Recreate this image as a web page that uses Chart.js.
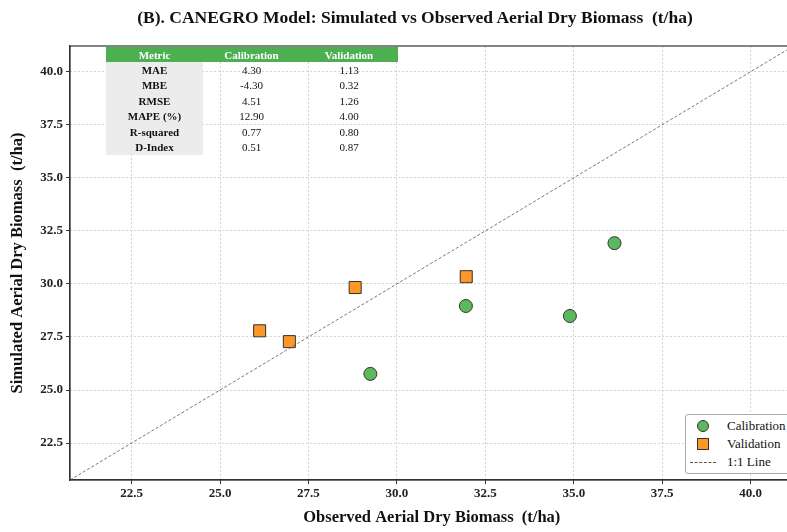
<!DOCTYPE html>
<html>
<head>
<meta charset="utf-8">
<script src="https://cdn.jsdelivr.net/npm/chart.js@4.4.1/dist/chart.umd.min.js"></script>
<style>
    html, body { margin: 0; padding: 0; background: #fff; overflow: hidden; }
    body { width: 787px; height: 532px; position: relative; font-family: "Liberation Serif", "DejaVu Serif", serif; }
    #wrap { position: absolute; left: 0; top: 0; width: 803px; height: 532px; }
    #title { position: absolute; top: 7px; left: 0; width: 830px; text-align: center; font-weight: bold; font-size: 17.5px; white-space: pre; color: #111; }
    #metrics { position: absolute; left: 106px; top: 47px; border-collapse: collapse; font-size: 11px; color: #111; }
    #metrics th { background: #4caf50; color: #fff; font-weight: bold; height: 15px; padding: 0; }
    #metrics td { height: 15.5px; padding: 0; text-align: center; }
    #metrics td.name { background: rgba(234, 234, 234, 0.9); font-weight: bold; }
    #legend { position: absolute; left: 685px; top: 414px; width: 110px; height: 60px; border: 1px solid #aaa; border-radius: 3px; background: #fff; font-size: 13px; color: #111; box-sizing: border-box; }
    .item { position: absolute; left: 0; height: 18px; line-height: 18px; }
    .item span.lbl { position: absolute; left: 41px; white-space: nowrap; }
    .mk-circle { position: absolute; left: 11px; top: 3px; width: 12px; height: 12px; border-radius: 50%; background: #5cb85c; border: 1px solid #333; box-sizing: border-box; }
    .mk-square { position: absolute; left: 11px; top: 3px; width: 12px; height: 12px; background: #fd9827; border: 1px solid #333; box-sizing: border-box; }
    .mk-line { position: absolute; left: 4px; top: 9px; width: 26px; border-top: 1px dashed #555; }
</style>
</head>
<body>
<div id="wrap"><canvas id="chart" width="803" height="532"></canvas></div>
<div id="title">(B). CANEGRO Model: Simulated vs Observed Aerial Dry Biomass  (t/ha)</div>
<table id="metrics"></table>
<div id="legend">
    <div class="item" style="top:2px"><span class="mk-circle"></span><span class="lbl">Calibration</span></div>
    <div class="item" style="top:20px"><span class="mk-square"></span><span class="lbl">Validation</span></div>
    <div class="item" style="top:38px"><span class="mk-line"></span><span class="lbl">1:1 Line</span></div>
</div>
<script>
// observed (x) vs simulated (y), t/ha
const calObserved = [29.25, 31.95, 34.89, 36.15];
const calSimulated = [25.76, 28.96, 28.49, 31.92];
const valObserved = [26.12, 26.96, 28.82, 31.96];
const valSimulated = [27.79, 27.28, 29.83, 30.34];

const axisMin = 20.76;
const axisMax = 41.21;

const metricNames = ['MAE', 'MBE', 'RMSE', 'MAPE (%)', 'R-squared', 'D-Index'];
const calMetrics = ['4.30', '-4.30', '4.51', '12.90', '0.77', '0.51'];
const valMetrics = ['1.13', '0.32', '1.26', '4.00', '0.80', '0.87'];

// metrics table
const table = document.getElementById('metrics');
let html = '<tr><th style="width:97px">Metric</th><th style="width:97px">Calibration</th><th style="width:98px">Validation</th></tr>';
metricNames.forEach((m, i) => {
    html += `<tr><td class="name">${m}</td><td>${calMetrics[i]}</td><td>${valMetrics[i]}</td></tr>`;
});
table.innerHTML = html;

const toPoints = (xs, ys) => xs.map((x, i) => ({ x: x, y: ys[i] }));

// draws the full box (top and right spines too)
const frame = {
    id: 'frame',
    afterDraw(chart) {
        const { ctx, chartArea: a } = chart;
        ctx.save();
        ctx.strokeStyle = '#333';
        ctx.lineWidth = 1.2;
        ctx.strokeRect(a.left, a.top, a.right - a.left, a.bottom - a.top);
        ctx.restore();
    }
};

const tickFont = { family: 'Liberation Serif', size: 13, weight: 'bold' };
const titleFont = { family: 'Liberation Serif', size: 16.5, weight: 'bold' };

function axis(title, isX) {
    return {
        type: 'linear',
        min: axisMin,
        max: axisMax,
        ticks: {
            stepSize: 2.5,
            includeBounds: false,
            color: '#222',
            font: tickFont,
            padding: isX ? 2 : 3,
            callback: v => v.toFixed(1)
        },
        grid: {
            color: '#c8c8c8',
            lineWidth: 0.8,
            tickColor: '#333',
            tickLength: 4,
            tickWidth: 1
        },
        // in v4 border.dash sets the grid line dash
        border: { color: '#333', width: 1.2, dash: [2, 2] },
        title: {
            display: true,
            text: title,
            color: '#111',
            font: titleFont,
            padding: isX ? { top: 0, bottom: 4 } : { top: 8, bottom: 0 }
        },
        afterFit(scale) {
            if (isX) scale.height = 52; else scale.width = 70;
        }
    };
}

new Chart(document.getElementById('chart'), {
    type: 'scatter',
    data: {
        datasets: [
            {
                label: '1:1 Line',
                type: 'line',
                data: [{ x: axisMin, y: axisMin }, { x: axisMax, y: axisMax }],
                borderColor: '#555',
                borderWidth: 0.8,
                borderDash: [3, 2],
                pointRadius: 0,
                fill: false
            },
            {
                label: 'Calibration',
                data: toPoints(calObserved, calSimulated),
                pointStyle: 'circle',
                pointRadius: 6.5,
                backgroundColor: '#5cb85c',
                borderColor: '#333',
                borderWidth: 1
            },
            {
                label: 'Validation',
                data: toPoints(valObserved, valSimulated),
                pointStyle: 'rect',
                pointRadius: 8.5,
                backgroundColor: '#fd9827',
                borderColor: '#333',
                borderWidth: 1
            }
        ]
    },
    options: {
        responsive: false,
        animation: false,
        layout: { padding: { left: 0, top: 46, right: 4, bottom: 0 } },
        plugins: {
            legend: { display: false },
            tooltip: { enabled: false }
        },
        scales: { x: axis('Observed Aerial Dry Biomass  (t/ha)', true), y: axis('Simulated Aerial Dry Biomass  (t/ha)', false) }
    },
    plugins: [frame]
});
</script>
</body>
</html>
